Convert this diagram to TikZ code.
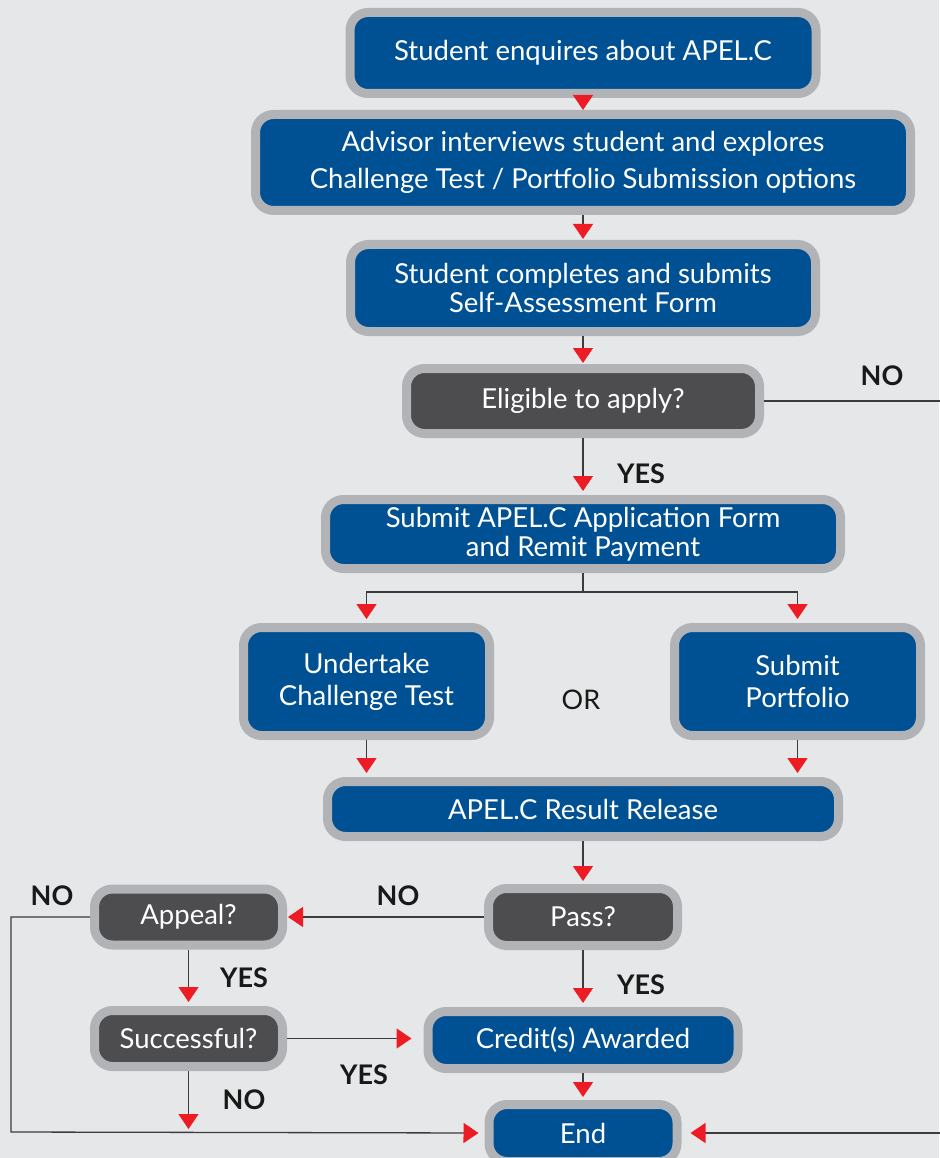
\documentclass[tikz,border=0pt]{standalone}
\usepackage{fontspec}
\setmainfont{Lato}
\usetikzlibrary{arrows.meta}

\definecolor{bggrey}{RGB}{230,231,232}
\definecolor{rimgrey}{RGB}{177,179,182}
\definecolor{apelblue}{RGB}{0,81,148}
\definecolor{askgrey}{RGB}{77,77,79}
\definecolor{arrowred}{RGB}{237,28,36}
\definecolor{linegrey}{RGB}{60,60,62}

\begin{document}
\begin{tikzpicture}[x=1pt, y=-1pt, node distance=110pt]

    \tikzstyle{box}=[draw=rimgrey, line width=9pt, fill=apelblue, rounded corners=18pt, text=white, align=center, inner sep=0pt, font=\fontsize{27.5}{29}\selectfont]
    \tikzstyle{ask}=[box, fill=askgrey]
    \tikzstyle{line}=[draw=linegrey, line width=1.3pt]
    \tikzstyle{flow}=[line, -{Triangle[width=20pt, length=15pt, color=arrowred]}, shorten >=1pt]
    \tikzstyle{yesno}=[font=\fontsize{27}{27}\selectfont\bfseries, text=black!90]

    \useasboundingbox[fill=bggrey] (0,0) rectangle (939,1158);

    \node[box, minimum width=466pt, minimum height=81pt] (enq) at (583,53) {Student enquires about APEL.C};
    \node[box, minimum width=655pt, minimum height=96pt] (adv) [below of=enq, node distance=109.5pt] {Advisor interviews student and explores\\[8pt]Challenge Test / Portfolio Submission options};
    \node[box, minimum width=465pt, minimum height=87pt] (self) [below of=adv, node distance=125.5pt] {Student completes and submits\\Self-Assessment Form};
    \node[ask, minimum width=353pt, minimum height=65pt] (elig) [below of=self, node distance=113pt] {Eligible to apply?};
    \node[box, minimum width=515pt, minimum height=69pt] (apply) [below of=elig, node distance=133pt] {Submit APEL.C Application Form\\and Remit Payment};
    \node[box, minimum width=246pt, minimum height=108pt] (test) at (366.5,681.5) {Undertake\\[3pt]Challenge Test};
    \node[box, minimum width=246pt, minimum height=108pt] (port) at (797.5,681.5) {Submit\\[3pt]Portfolio};
    \node[font=\fontsize{27}{27}\selectfont, text=black!90] (or) at (581,700) {OR};
    \node[box, minimum width=511pt, minimum height=55pt] (result) [below of=apply, node distance=275pt] {APEL.C Result Release};
    \node[ask, minimum width=189pt, minimum height=57pt] (pass) [below of=result, node distance=108pt] {Pass?};
    \node[ask, minimum width=188pt, minimum height=56pt] (appeal) at (188.5,917) {Appeal?};
    \node[ask, minimum width=188pt, minimum height=56pt] (succ) [below of=appeal, node distance=121.5pt] {Successful?};
    \node[box, minimum width=310pt, minimum height=57pt] (credit) [below of=pass, node distance=123pt] {Credit(s) Awarded};
    \node[box, minimum width=188pt, minimum height=57pt] (end) [below of=credit, node distance=93pt] {End};

    % yes / no labels
    \node[yesno] (noelig)   at (882,376)  {NO};
    \node[yesno] (yeselig)  at (641,474)  {YES};
    \node[yesno] (nopass)   at (398,896)  {NO};
    \node[yesno] (noappeal) at (52,896)   {NO};
    \node[yesno] (yesappeal) at (244,978) {YES};
    \node[yesno] (yespass)  at (641,985)  {YES};
    \node[yesno] (yessucc)  at (364,1075) {YES};
    \node[yesno] (nosucc)   at (244,1100) {NO};

    \coordinate (split) at (583,592);
    \coordinate (farleft) at (11,1132);
    \coordinate (farright) at (945,401);

    \path[flow] (enq)  edge[shorten >=0pt] (adv)
                (adv)  edge (self)
                (self) edge (elig)
                (elig) edge[shorten >=4pt] (apply)
                (result) edge[shorten >=3pt] (pass)
                (pass) edge[shorten >=4pt] (credit)
                (credit) edge[shorten >=3pt] (end)
                (appeal) edge[shorten >=4pt] (succ)
                (pass) edge (appeal);

    \draw[line] (apply.south) -- (split);
    \draw[flow, shorten >=4pt] (split) -| (test.north);
    \draw[flow, shorten >=4pt] (split) -| (port.north);
    \draw[flow, shorten >=4pt] (test.south) -- (test.south |- result.north);
    \draw[flow, shorten >=4pt] (port.south) -- (port.south |- result.north);

    \draw[flow, shorten >=12pt] (succ.east) -- (succ.east -| credit.west);
    \draw[flow, shorten >=3pt] (succ.south) -- (succ.south |- farleft);
    \draw[flow, shorten >=6pt] (appeal.west) -| (farleft) -- (end.west);
    \draw[flow, shorten >=9pt] (elig.east) -- (farright) |- (end.east);

\end{tikzpicture}
\end{document}
